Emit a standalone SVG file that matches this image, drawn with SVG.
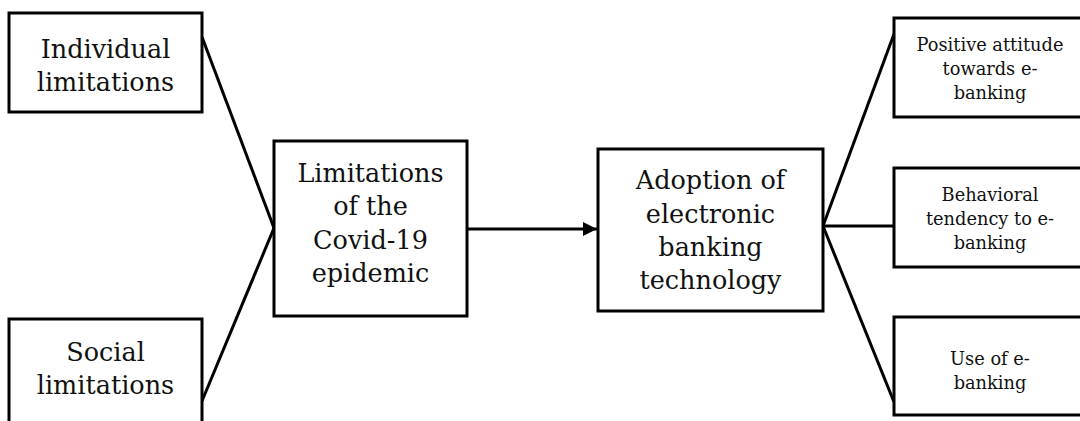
<svg xmlns="http://www.w3.org/2000/svg" width="1080" height="421" viewBox="0 0 1080 421">
  <style>
    .box { fill: #fff; stroke: #000; stroke-width: 3; }
    .link { fill: none; stroke: #000; stroke-width: 3; }
    .lbl { font-family: "DejaVu Serif", "Liberation Serif", serif; fill: #111; text-anchor: middle; }
    .big { font-size: 25.5px; }
    .small { font-size: 17.8px; }
  </style>
  <defs>
    <marker id="arrow" viewBox="0 0 10 10" refX="10" refY="5" markerWidth="4.8" markerHeight="4.8" orient="auto" markerUnits="strokeWidth">
      <path d="M0,0 L10,5 L0,10 Z" fill="#000"/>
    </marker>
  </defs>
  <rect width="1080" height="421" fill="#fff"/>

  <g id="connectors">
    <line class="link" x1="202" y1="37" x2="274" y2="228"/>
    <line class="link" x1="202" y1="401" x2="274" y2="228"/>
    <line class="link" x1="467" y1="229" x2="597" y2="229" marker-end="url(#arrow)"/>
    <line class="link" x1="823" y1="226" x2="894" y2="34"/>
    <line class="link" x1="823" y1="226" x2="894" y2="226"/>
    <line class="link" x1="823" y1="226" x2="894" y2="402"/>
  </g>

  <g id="individual">
    <rect class="box" x="9" y="13" width="193" height="99"/>
    <text class="lbl big" x="105.5" y="58">Individual</text>
    <text class="lbl big" x="105.5" y="91">limitations</text>
  </g>

  <g id="social">
    <rect class="box" x="9" y="319" width="193" height="120"/>
    <text class="lbl big" x="105.5" y="361">Social</text>
    <text class="lbl big" x="105.5" y="394">limitations</text>
  </g>

  <g id="covid">
    <rect class="box" x="274" y="141" width="193" height="175"/>
    <text class="lbl big" x="370.5" y="182">Limitations</text>
    <text class="lbl big" x="370.5" y="215">of the</text>
    <text class="lbl big" x="370.5" y="249">Covid-19</text>
    <text class="lbl big" x="370.5" y="282">epidemic</text>
  </g>

  <g id="adoption">
    <rect class="box" x="598" y="149" width="225" height="162"/>
    <text class="lbl big" x="710.5" y="189">Adoption of</text>
    <text class="lbl big" x="710.5" y="223">electronic</text>
    <text class="lbl big" x="710.5" y="256">banking</text>
    <text class="lbl big" x="710.5" y="289">technology</text>
  </g>

  <g id="attitude">
    <rect class="box" x="894" y="18" width="192" height="99"/>
    <text class="lbl small" x="990" y="51">Positive attitude</text>
    <text class="lbl small" x="990" y="75">towards e-</text>
    <text class="lbl small" x="990" y="99">banking</text>
  </g>

  <g id="tendency">
    <rect class="box" x="894" y="168" width="192" height="99"/>
    <text class="lbl small" x="990" y="201">Behavioral</text>
    <text class="lbl small" x="990" y="225">tendency to e-</text>
    <text class="lbl small" x="990" y="249">banking</text>
  </g>

  <g id="usage">
    <rect class="box" x="894" y="317" width="192" height="98"/>
    <text class="lbl small" x="990" y="365">Use of e-</text>
    <text class="lbl small" x="990" y="389">banking</text>
  </g>
</svg>
